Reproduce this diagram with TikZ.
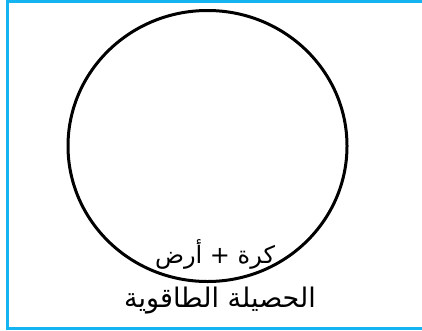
\documentclass[tikz,border=0pt]{standalone}
\usepackage{fontspec}
\newfontfamily\arabicfont[Script=Arabic]{DejaVu Sans}
\TeXXeTstate=1
\usepackage{xcolor}
\usetikzlibrary{shapes.geometric,positioning}
\definecolor{frameblue}{RGB}{20,180,240}

\begin{document}
\begin{tikzpicture}[
        x=1pt, y=-1pt,
        % cadre bleu
        frame/.style={draw=frameblue, line width=3pt},
        % le systeme (boule + terre)
        sysbody/.style={ellipse, draw, line width=3pt,
            minimum width=279pt, minimum height=271pt, inner sep=0pt},
        % texte arabe
        artext/.style={font=\arabicfont\fontsize{24}{28}\selectfont, inner sep=0pt}
    ]

        \useasboundingbox (0,0) rectangle (422,330);

        % cadre
        \draw[frame] (7,1) rectangle (440,328);

        % systeme
        \node[sysbody] (sys) at (207.5,146) {};

        % textes
        \node[artext] (parts) at (215,254) {\beginR كرة + أرض\endR};
        \node[artext, font=\arabicfont\fontsize{27}{30}\selectfont] (balance) at (220,301) {\beginR الحصيلة الطاقوية\endR};

    \end{tikzpicture}
\end{document}
